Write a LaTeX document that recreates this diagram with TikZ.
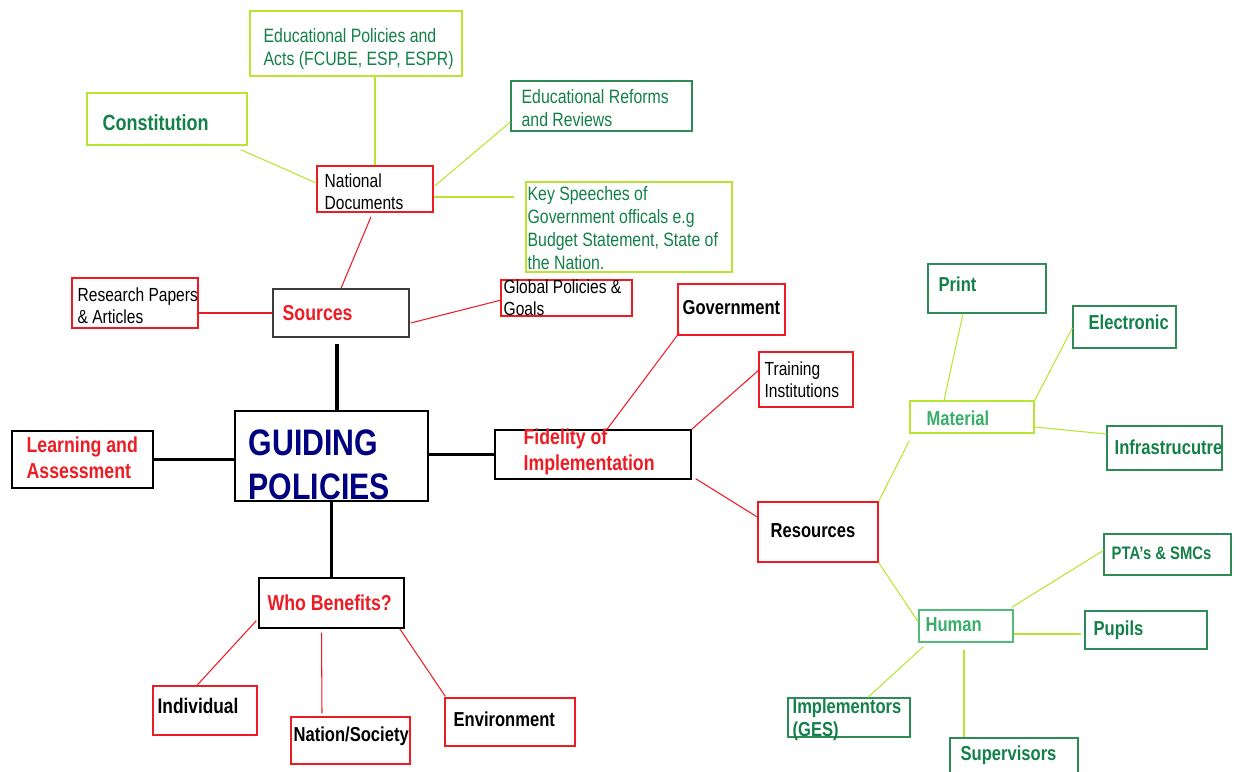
\documentclass[tikz,border=0pt]{standalone}
\usepackage{fontspec}
\setmainfont{Liberation Sans}[FakeStretch=0.82]
\usetikzlibrary{calc}

\definecolor{limeg}{RGB}{185,228,50}
\definecolor{darkg}{RGB}{46,139,87}
\definecolor{midg}{RGB}{80,190,120}
\definecolor{greent}{RGB}{18,128,72}
\definecolor{lightt}{RGB}{55,175,105}
\definecolor{redd}{RGB}{237,28,36}
\definecolor{navyt}{RGB}{0,0,128}
\definecolor{grayb}{RGB}{60,60,60}

\newcommand{\px}{0.02cm}

\begin{document}
\begin{tikzpicture}[x=0.02cm, y=-0.02cm,
  tbox/.style={draw, line width=0.8pt, inner sep=0pt},
  txt/.style={anchor=west, inner sep=0pt, align=left},
  gtxt/.style={txt, text=greent, font=\fontsize{11}{13}\selectfont},
  ktxt/.style={txt, text=black, font=\fontsize{10.8}{12.5}\selectfont},
  kbold/.style={txt, text=black, font=\fontsize{11.5}{13}\selectfont\bfseries},
  rbold/.style={txt, text=redd, font=\fontsize{12.3}{14.7}\selectfont\bfseries},
  gbold/.style={txt, text=greent, font=\fontsize{11.5}{13}\selectfont\bfseries},
  limeln/.style={limeg, line width=0.6pt},
  redln/.style={redd, line width=0.6pt},
  blackln/.style={black, line width=1.8pt}]

\useasboundingbox (0,0) rectangle (1240,771);

% sources branch
\node[tbox, draw=limeg, minimum width=212*\px, minimum height=65*\px,
  label={[gtxt, xshift=14*\px, yshift=-5.5*\px]west:{Educational Policies and\\Acts (FCUBE, ESP, ESPR)}}] (edpol) at (356,43.5) {};
\node[tbox, draw=limeg, minimum width=160*\px, minimum height=52*\px,
  label={[gbold, font=\fontsize{12.5}{14}\selectfont\bfseries, xshift=16*\px, yshift=-4*\px]west:{Constitution}}] (const) at (167,119) {};
\node[tbox, draw=redd, minimum width=116*\px, minimum height=46*\px,
  label={[ktxt, xshift=8*\px, yshift=-3*\px]west:{National\\Documents}}] (natdoc) at (375,189) {};
\node[tbox, draw=darkg, minimum width=181*\px, minimum height=50*\px,
  label={[gtxt, xshift=11*\px, yshift=-2*\px]west:{Educational Reforms\\and Reviews}}] (reforms) at (601.5,106) {};
\node[tbox, draw=limeg, minimum width=206*\px, minimum height=90*\px,
  label={[gtxt, xshift=2*\px, yshift=-1*\px]west:{Key Speeches of\\Government officals e.g\\Budget Statement, State of\\the Nation.}}] (keysp) at (629,227) {};
\node[tbox, draw=redd, minimum width=126*\px, minimum height=50*\px,
  label={[ktxt, xshift=6*\px, yshift=-3*\px]west:{Research Papers\\\& Articles}}] (research) at (135,303) {};
\node[tbox, draw=grayb, minimum width=136*\px, minimum height=48*\px,
  label={[rbold, xshift=10*\px]west:{Sources}}] (sources) at (341,313) {};
\node[tbox, draw=redd, minimum width=131*\px, minimum height=36*\px,
  label={[ktxt, xshift=3*\px]west:{Global Policies \&\\Goals}}] (global) at (566.5,298) {};

% centre and first ring
\node[tbox, draw=black, minimum width=193*\px, minimum height=90*\px,
  label={[txt, text=navyt, font=\fontsize{21}{25}\selectfont\bfseries, xshift=14*\px, yshift=-9*\px]west:{GUIDING\\POLICIES}}] (guiding) at (331.5,456) {};
\node[tbox, draw=black, minimum width=141*\px, minimum height=57*\px,
  label={[rbold, xshift=15*\px, yshift=1.5*\px]west:{Learning and\\Assessment}}] (learning) at (82.5,459.5) {};
\node[tbox, draw=black, minimum width=196*\px, minimum height=49*\px,
  label={[rbold, xshift=29*\px, yshift=2.5*\px]west:{Fidelity of\\Implementation}}] (fidelity) at (593,454.5) {};
\node[tbox, draw=black, minimum width=145*\px, minimum height=50*\px,
  label={[rbold, xshift=9*\px]west:{Who Benefits?}}] (who) at (331.5,603) {};

% fidelity branch
\node[tbox, draw=redd, minimum width=107*\px, minimum height=51*\px,
  label={[kbold, xshift=5*\px, yshift=1.5*\px]west:{Government}}] (govt) at (731.5,309.5) {};
\node[tbox, draw=redd, minimum width=94*\px, minimum height=55*\px,
  label={[ktxt, xshift=6*\px]west:{Training\\Institutions}}] (training) at (806,379.5) {};
\node[tbox, draw=redd, minimum width=120*\px, minimum height=60*\px,
  label={[kbold, xshift=13*\px, yshift=1*\px]west:{Resources}}] (resources) at (818,532) {};

% resources branch
\node[tbox, draw=limeg, minimum width=124*\px, minimum height=32*\px,
  label={[gbold, text=lightt, xshift=17*\px, yshift=-1*\px]west:{Material}}] (material) at (972,417) {};
\node[tbox, draw=darkg, minimum width=118*\px, minimum height=49*\px,
  label={[gbold, xshift=11*\px, yshift=4.5*\px]west:{Print}}] (print) at (987,288.5) {};
\node[tbox, draw=darkg, minimum width=103*\px, minimum height=42*\px,
  label={[gbold, xshift=16*\px, yshift=5*\px]west:{Electronic}}] (electronic) at (1124.5,327) {};
\node[tbox, draw=darkg, minimum width=115*\px, minimum height=44*\px,
  label={[gbold, xshift=8*\px, yshift=1*\px]west:{Infrastrucutre}}] (infra) at (1164.5,448) {};
\node[tbox, draw=midg, minimum width=94*\px, minimum height=32*\px,
  label={[gbold, text=lightt, xshift=7*\px, yshift=1*\px]west:{Human}}] (human) at (966,626) {};
\node[tbox, draw=darkg, minimum width=127*\px, minimum height=41*\px,
  label={[gbold, font=\fontsize{10.3}{12}\selectfont\bfseries, xshift=8*\px, yshift=1.5*\px]west:{PTA's \& SMCs}}] (pta) at (1167.5,554.5) {};
\node[tbox, draw=darkg, minimum width=122*\px, minimum height=38*\px,
  label={[gbold, xshift=9*\px]west:{Pupils}}] (pupils) at (1146,630) {};
\node[tbox, draw=darkg, minimum width=122*\px, minimum height=39*\px,
  label={[gbold, xshift=5*\px, yshift=-2*\px]west:{Implementors\\(GES)}}] (implem) at (849,717.5) {};
\node[tbox, draw=darkg, minimum width=128*\px, minimum height=52*\px,
  label={[gbold, xshift=11*\px, yshift=9*\px]west:{Supervisors}}] (superv) at (1014,764) {};

% who benefits branch
\node[tbox, draw=redd, minimum width=104*\px, minimum height=49*\px,
  label={[kbold, font=\fontsize{12}{14}\selectfont\bfseries, xshift=5*\px, yshift=4.5*\px]west:{Individual}}] (indiv) at (205,710.5) {};
\node[tbox, draw=redd, minimum width=119*\px, minimum height=47*\px,
  label={[kbold, xshift=3*\px, yshift=4.5*\px]west:{Nation/Society}}] (nation) at (350.5,740.5) {};
\node[tbox, draw=redd, minimum width=130*\px, minimum height=48*\px,
  label={[kbold, xshift=9*\px, yshift=3*\px]west:{Environment}}] (environ) at (510,722) {};

% connectors
\draw[limeln] ($(const.south east)+(-7,4)$) -- ($(natdoc.west)+(0,-6)$);
\draw[limeln] (natdoc.north) -- (natdoc.north |- edpol.south);
\draw[limeln] ($(reforms.west)+(0,16)$) -- ($(natdoc.east)+(1,-3)$);
\draw[limeln] ($(natdoc.east)+(0,8)$) -- ($(keysp.west |- natdoc.east)+(-11,8)$);
\draw[redln] ($(natdoc.south)+(-4,4)$) -- (sources.north);
\draw[redln] (sources.west) -- (sources.west -| research.east);
\draw[redln] ($(sources.east)+(1,10)$) -- ($(global.west)+(1,2)$);

\draw[blackln] ($(sources.south)+(-4,6)$) -- ($(sources.south |- guiding.north)+(-4,2)$);
\draw[blackln] (learning.east) -- (learning.east -| guiding.west);
\draw[blackln] (fidelity.west) -- (fidelity.west -| guiding.east);
\draw[blackln] (guiding.south) -- (who.north);

\draw[redln] ($(fidelity.north)+(14,0)$) -- ($(govt.south west)+(2,-3)$);
\draw[redln] (fidelity.north east) -- ($(training.west)+(0,-9)$);
\draw[redln] ($(fidelity.south east)+(4,-1)$) -- ($(resources.west)+(0,-15)$);

\draw[limeln] (resources.north east) -- ($(material.south west)+(0,7)$);
\draw[limeln] (resources.south east) -- ($(human.west)+(0,-4)$);
\draw[limeln] ($(material.north)+(-28,0)$) -- ($(print.south)+(-24,0)$);
\draw[limeln] (material.north east) -- ($(electronic.west)+(0,1)$);
\draw[limeln] ($(material.east)+(0,10)$) -- ($(infra.west)+(0,-14)$);
\draw[limeln] ($(human.north east)+(-2,-2)$) -- ($(pta.west)+(0,-4)$);
\draw[limeln] ($(human.east)+(0,8)$) -- ($(pupils.west)+(-3,4)$);
\draw[limeln] ($(human.south west)+(5,4)$) -- ($(implem.north)+(19,0)$);
\draw[limeln] ($(human.south)+(-2,7)$) -- ($(human.south |- superv.north)+(-2,0)$);

\draw[redln] ($(who.south west)+(-2,-8)$) -- ($(indiv.north)+(-8,0)$);
\draw[redln] ($(who.south)+(-10,4)$) -- ($(nation.north)+(-28.5,-3)$);
\draw[redln] ($(who.south east)+(-5,0)$) -- ($(environ.north west)+(1,-1)$);
\end{tikzpicture}
\end{document}
